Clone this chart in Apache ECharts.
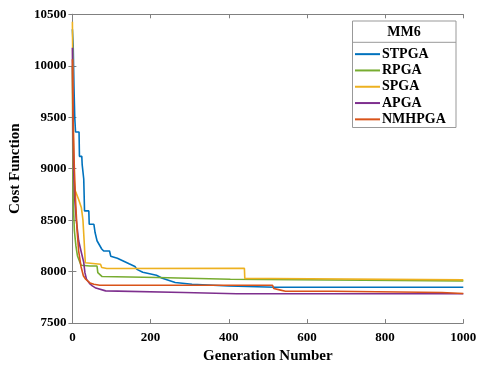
<!DOCTYPE html>
<html><head><meta charset="utf-8">
<script src="https://cdn.jsdelivr.net/npm/echarts@6/dist/echarts.min.js"></script>
<style>html,body{margin:0;padding:0;background:#fff}#c{width:481px;height:369px}</style>
</head><body><div id="c"></div>
<script>
const seriesNames = ['STPGA','RPGA','SPGA','APGA','NMHPGA'];
const seriesColors = ['#0072BD','#77AC30','#EDB120','#7E2F8E','#D95319'];
const xTicks = [0,200,400,600,800,1000];
const yTicks = [7500,8000,8500,9000,9500,10000,10500];
const legendTitle = 'MM6';
const stpga = [[0,10355],[2,10200],[4,9800],[6,9500],[8,9357],[17,9357],[18,9120],[24,9120],[25,9040],[28,9040],[29,8900],[30,8750],[31,8590],[42,8590],[43,8460],[55,8460],[58,8380],[63,8300],[66,8285],[75,8220],[80,8200],[95,8200],[98,8150],[115,8130],[130,8103],[145,8076],[160,8050],[165,8022],[180,7994],[215,7965],[230,7936],[263,7894],[306,7878],[400,7860],[520,7848],[1000,7848]];
const rpga = [[0,10000],[1,9100],[2,8700],[5,8400],[9,8250],[11,8200],[13,8152],[22,8062],[45,8055],[63,8055],[65,7990],[76,7952],[217,7943],[218,7926],[404,7926],[405,7910],[1000,7910]];
const spga = [[0,10428],[1,10000],[2,9500],[3,9000],[6,8800],[16,8700],[23,8620],[27,8500],[30,8300],[33,8087],[72,8071],[75,8040],[88,8030],[440,8033],[441,7933],[509,7933],[510,7920],[1000,7920]];
const apga = [[0,10176],[1,9700],[3,9000],[6,8700],[10,8500],[16,8300],[22,8200],[29,8090],[32,7990],[36,7926],[45,7880],[51,7862],[60,7840],[85,7813],[285,7797],[420,7785],[1000,7785]];
const nmhpga = [[0,10064],[1,9600],[3,9300],[5,9000],[8,8700],[12,8400],[16,8200],[22,8050],[28,7960],[34,7926],[45,7890],[55,7878],[70,7868],[512,7868],[515,7836],[530,7823],[545,7810],[667,7810],[668,7797],[945,7797],[946,7788],[1000,7788]];
const allData = [stpga, rpga, spga, apga, nmhpga];

const font = '"Liberation Serif", "Times New Roman", serif';
const axisCol = '#808080';
const chart = echarts.init(document.getElementById('c'));
const fmt = v => String(v);
const baseX = {type:'value', min:0, max:1000, interval:200, splitLine:{show:false},
  axisLine:{lineStyle:{color:axisCol}}, axisTick:{inside:true, length:4, lineStyle:{color:axisCol}}};
const baseY = {type:'value', min:7500, max:10500, interval:500, splitLine:{show:false},
  axisLine:{lineStyle:{color:axisCol}}, axisTick:{inside:true, length:4, lineStyle:{color:axisCol}}};
chart.setOption({
  animation:false,
  grid:{left:71.7, right:17.7, top:14.3, bottom:45},
  xAxis:[
    Object.assign({}, baseX, {position:'bottom', name:'Generation Number', nameLocation:'middle', nameGap:22,
      nameTextStyle:{fontFamily:font, fontWeight:'bold', fontSize:15, color:'#000'},
      axisLabel:{fontFamily:font, fontWeight:'bold', fontSize:13, color:'#000', margin:8, formatter:fmt}}),
    Object.assign({}, baseX, {position:'top', axisLabel:{show:false}})
  ],
  yAxis:[
    Object.assign({}, baseY, {position:'left', name:'Cost Function', nameLocation:'middle', nameGap:44,
      nameTextStyle:{fontFamily:font, fontWeight:'bold', fontSize:15, color:'#000'},
      axisLabel:{fontFamily:font, fontWeight:'bold', fontSize:13, color:'#000', margin:6, formatter:fmt}}),
    Object.assign({}, baseY, {position:'right', axisLabel:{show:false}})
  ],
  legend:{
    orient:'vertical', left:355, top:46, itemGap:0, itemWidth:25, itemHeight:2,
    icon:'rect', data:seriesNames,
    textStyle:{fontFamily:font, fontWeight:'bold', fontSize:14, color:'#000', lineHeight:16.3, padding:[0,0,0,-3]},
    padding:0
  },
  graphic:[
    {type:'rect', shape:{x:352.5, y:21, width:103.5, height:106.5}, style:{fill:'#fff', stroke:'#999', lineWidth:1}, z:-1},
    {type:'line', shape:{x1:352.5, y1:42.3, x2:456, y2:42.3}, style:{stroke:'#999', lineWidth:1}},
    {type:'text', x:404, y:32, style:{text:legendTitle, font:'bold 14px '+font, fill:'#000', align:'center', verticalAlign:'middle'}}
  ],
  series: seriesNames.map((n,i)=>({
    name:n, type:'line', data:allData[i], showSymbol:false, symbol:'none',
    lineStyle:{width:1.6, color:seriesColors[i]}, itemStyle:{color:seriesColors[i]}
  }))
});
</script></body></html>
